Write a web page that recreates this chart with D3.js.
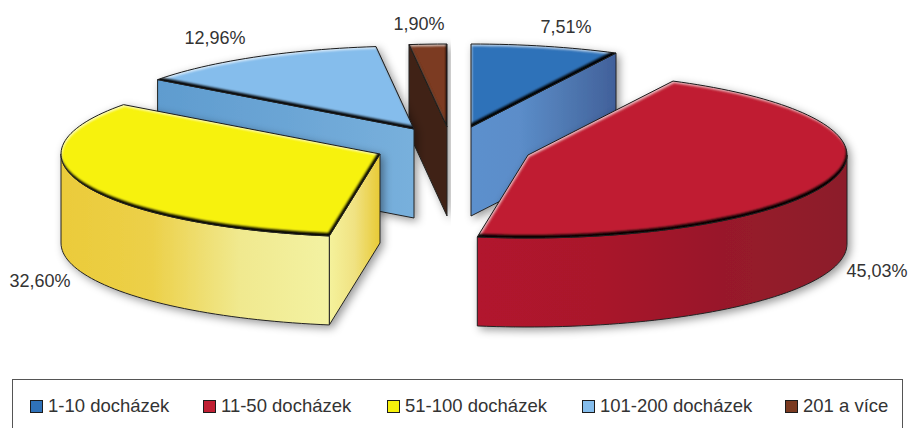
<!DOCTYPE html>
<html>
<head>
<meta charset="utf-8">
<script src="https://cdn.jsdelivr.net/npm/d3@7/dist/d3.min.js"></script>
<style>
body { margin: 0; background: #fff; }
svg { display: block; }
text { font-family: "Liberation Sans", Arial, sans-serif; fill: #333; }
</style>
</head>
<body>
<svg class="chart" width="909" height="428"></svg>
<script>
// hodnoty z grafu
const categories = ["1-10 docházek", "11-50 docházek", "51-100 docházek", "101-200 docházek", "201 a více"];
const shares = [7.51, 45.03, 32.60, 12.96, 1.90];
const shareLabels = ["7,51%", "45,03%", "32,60%", "12,96%", "1,90%"];

const topColors = ["#2f72b9", "#c01f33", "#f7f20c", "#85bdec", "#7b3a20"];
const wallColors = [
    ["#5c90cd", "#5b8dc9", "#4f78b1", "#41609a"],
    ["#b2142d", "#a9152c", "#98192c", "#8c1d2b"],
    ["#ebcb3a", "#ecd048", "#f0e98f", "#f3f2a2"],
    ["#5f9ccf", "#6ba5d5", "#78b0dc"],
    ["#3f2314"]
];
const cutColors = [
    ["#5c90cd", "#5b8dc9", "#4f78b1", "#41609a"],
    ["#98192c"],
    ["#f5f29c", "#f0e282", "#e8ca35"],
    ["#5f9ccf", "#6ba5d5", "#78b0dc"],
    ["#3f2314"]
];

const chart = { cx: 458, cy: 145, rx: 319, ry: 83, depth: 89 };

// vysunuti vysecu od stredu
const sliceShift = [[13, -18], [70, 10], [-78, 9], [-44, -16], [-11, -18]];
// poradi kresleni, predni vysece az nakonec
const drawOrder = [4, 0, 3, 2, 1];

const labelPos = [[566, 33], [877, 277], [40, 287], [215, 44], [419, 30]];
const legendX = [30, 203, 387, 582, 785];

const svg = d3.select("svg.chart");
const defs = svg.append("defs");

const x = d3.scaleLinear().domain([-1, 1]).range([-chart.rx, chart.rx]);
const y = d3.scaleLinear().domain([-1, 1]).range([-chart.ry, chart.ry]);

const arcs = d3.pie().sort(null).value(d => d)(shares);
const line = d3.line().x(d => d[0]).y(d => d[1]);

function rim(a) { return [x(Math.sin(a)), y(-Math.cos(a))]; }

function arc_points(a0, a1) {
    const n = Math.max(2, Math.ceil((a1 - a0) / 0.03));
    return d3.range(n + 1).map(i => rim(a0 + (a1 - a0) * i / n));
}

function drop(points) {
    return points.map(p => [p[0], p[1] + chart.depth]);
}

function gradient(id, colors) {
    const g = defs.append("linearGradient").attr("id", id);
    colors.forEach((c, i) => {
        g.append("stop")
            .attr("offset", colors.length > 1 ? i / (colors.length - 1) : 0)
            .attr("stop-color", c);
    });
    return "url(#" + id + ")";
}

// filtry: stin pod vyseci a zkoseni horni plochy
const shadow = defs.append("filter").attr("id", "shadow")
    .attr("x", "-10%").attr("y", "-15%").attr("width", "120%").attr("height", "135%");
shadow.append("feDropShadow")
    .attr("dx", 3).attr("dy", 3).attr("stdDeviation", 4)
    .attr("flood-color", "#000").attr("flood-opacity", 0.4);

const bevel = defs.append("filter").attr("id", "bevel")
    .attr("color-interpolation-filters", "sRGB");
bevel.append("feGaussianBlur").attr("in", "SourceAlpha").attr("stdDeviation", 1.2).attr("result", "blur");
bevel.append("feOffset").attr("in", "blur").attr("dx", 1).attr("dy", 2).attr("result", "down");
bevel.append("feComposite").attr("in", "SourceAlpha").attr("in2", "down").attr("operator", "out").attr("result", "topEdge");
bevel.append("feFlood").attr("flood-color", "#fff").attr("flood-opacity", 0.7);
bevel.append("feComposite").attr("in2", "topEdge").attr("operator", "in").attr("result", "light");
bevel.append("feOffset").attr("in", "blur").attr("dx", -1.5).attr("dy", -3).attr("result", "up");
bevel.append("feComposite").attr("in", "SourceAlpha").attr("in2", "up").attr("operator", "out").attr("result", "lowEdge");
bevel.append("feFlood").attr("flood-color", "#000").attr("flood-opacity", 1);
bevel.append("feComposite").attr("in2", "lowEdge").attr("operator", "in").attr("result", "dark");
const merge = bevel.append("feMerge");
["SourceGraphic", "light", "dark"].forEach(n => merge.append("feMergeNode").attr("in", n));

const slices = svg.selectAll("g.slice")
    .data(drawOrder)
    .enter().append("g")
        .attr("class", "slice")
        .attr("filter", "url(#shadow)")
        .attr("transform", i => "translate(" + (chart.cx + sliceShift[i][0]) + "," + (chart.cy + sliceShift[i][1]) + ")");

slices.each(function(i) {
    const g = d3.select(this);
    const a0 = arcs[i].startAngle, a1 = arcs[i].endAngle;

    // rezna plocha, jen kdyz miri k divakovi
    const cutAngle = Math.sin(a0) < 0 ? a0 : (Math.sin(a1) > 0 ? a1 : null);
    if (cutAngle !== null) {
        const edge = [[0, 0], rim(cutAngle)];
        g.append("path")
            .attr("d", line(edge.concat(drop(edge).reverse())) + "Z")
            .attr("fill", gradient("cut-" + i, cutColors[i]))
            .attr("stroke", "#222").attr("stroke-width", 1);
    }

    // vnejsi stena, viditelna cast je mezi 90 a 270 stupni
    const w0 = Math.max(a0, Math.PI / 2), w1 = Math.min(a1, Math.PI * 1.5);
    if (w1 > w0) {
        const outer = arc_points(w0, w1);
        g.append("path")
            .attr("d", line(outer.concat(drop(outer).reverse())) + "Z")
            .attr("fill", gradient("wall-" + i, wallColors[i]))
            .attr("stroke", "#222").attr("stroke-width", 1);
    }

    const top = line([[0, 0]].concat(arc_points(a0, a1))) + "Z";
    g.append("path").attr("d", top).attr("fill", topColors[i]).attr("filter", "url(#bevel)");
    g.append("path").attr("d", top).attr("fill", "none").attr("stroke", "#1c1c1c").attr("stroke-width", 1);
});

// popisky hodnot
svg.selectAll("text.value")
    .data(shareLabels)
    .enter().append("text")
        .attr("class", "value")
        .attr("x", (d, i) => labelPos[i][0])
        .attr("y", (d, i) => labelPos[i][1])
        .attr("text-anchor", "middle")
        .attr("font-size", 18)
        .text(d => d);

// legenda, spodni hrana je az mimo obrazek
svg.append("rect")
    .attr("x", 12.5).attr("y", 379.5)
    .attr("width", 890).attr("height", 60)
    .attr("fill", "none").attr("stroke", "#555").attr("stroke-width", 1);

const legend = svg.selectAll("g.legend")
    .data(categories)
    .enter().append("g")
        .attr("class", "legend")
        .attr("transform", (d, i) => "translate(" + legendX[i] + ",400)");

legend.append("rect")
    .attr("x", 0.5).attr("y", 0.5)
    .attr("width", 12).attr("height", 12)
    .attr("fill", (d, i) => topColors[i])
    .attr("stroke", "#1c1c1c");

legend.append("text")
    .attr("x", 18).attr("y", 12)
    .attr("font-size", 18.5)
    .text(d => d);
</script>
</body>
</html>
